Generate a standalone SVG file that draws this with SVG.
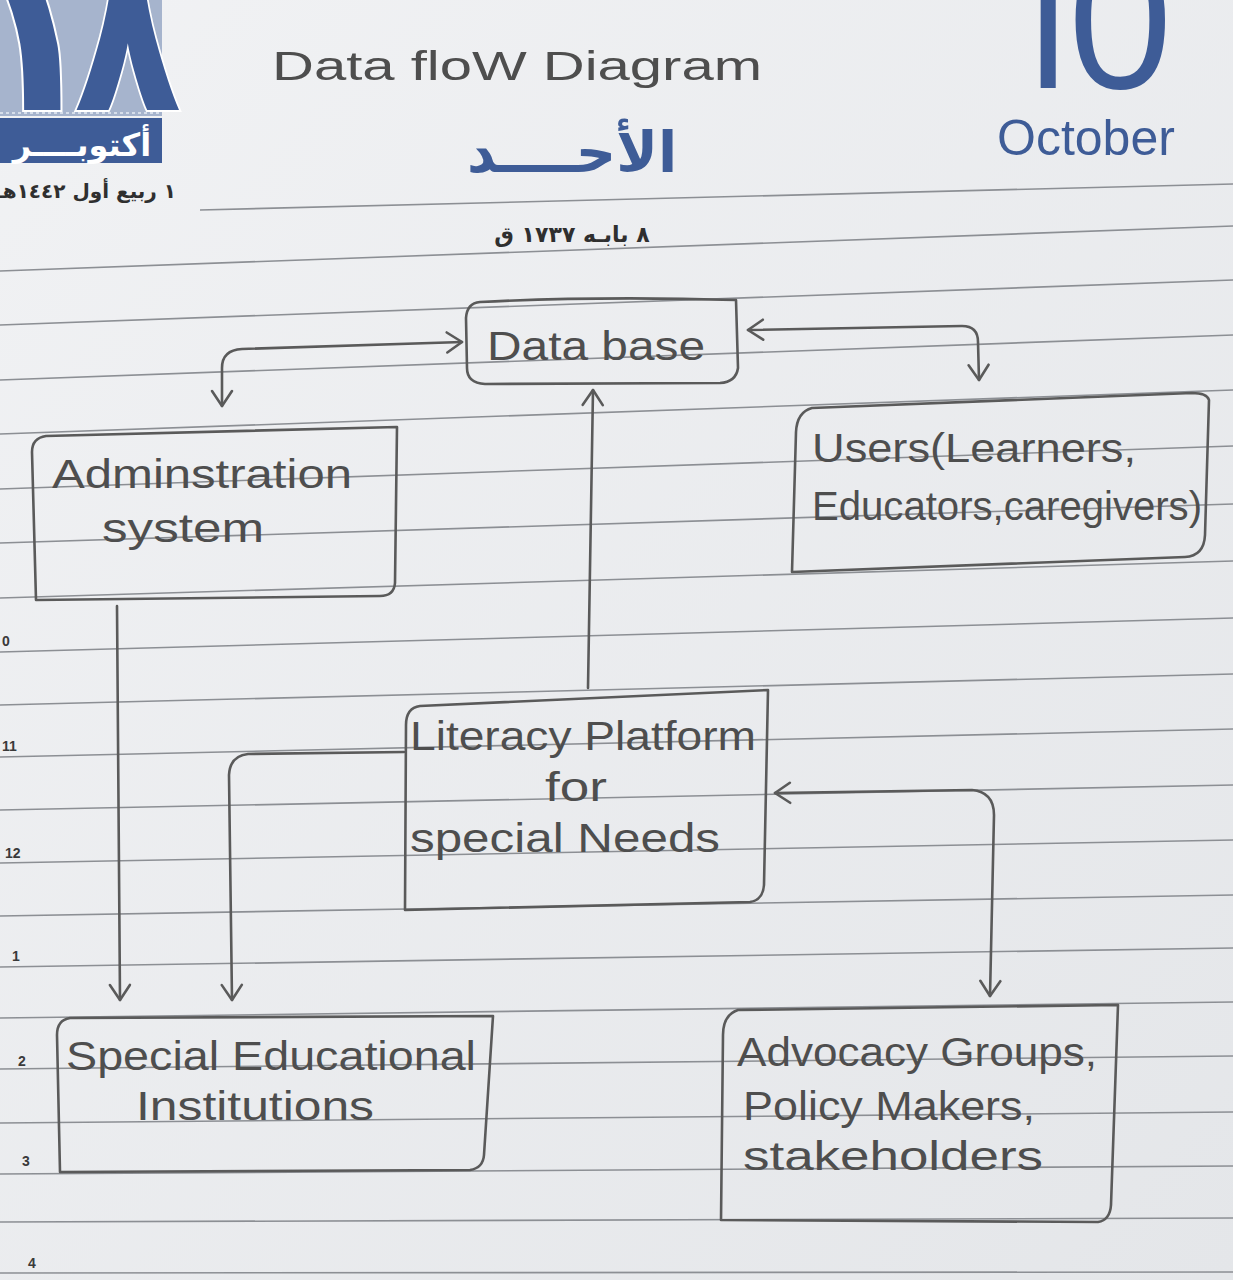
<svg xmlns="http://www.w3.org/2000/svg" width="1233" height="1280" viewBox="0 0 1233 1280">
  <defs>
    <linearGradient id="paper" x1="0" y1="0" x2="1" y2="1">
      <stop offset="0" stop-color="#f1f2f4"/>
      <stop offset="1" stop-color="#e4e6e9"/>
    </linearGradient>
    <marker id="ah" viewBox="0 0 24 24" refX="21" refY="12" markerWidth="24" markerHeight="24" markerUnits="userSpaceOnUse" orient="auto-start-reverse">
      <path d="M6,2 L21,12 L6,22" fill="none" stroke="#5a5a5a" stroke-width="2.6" stroke-linecap="round" stroke-linejoin="round"/>
    </marker>
    <clipPath id="logoClip">
      <rect x="0" y="0" width="200" height="116"/>
    </clipPath>
  </defs>
  <style>
    .rule { stroke: #8c8f94; stroke-width: 1.6; fill: none; }
    .box { fill: none; stroke: #5a5a5a; stroke-width: 2.6; stroke-linejoin: round; stroke-linecap: round; }
    .wire { fill: none; stroke: #5a5a5a; stroke-width: 2.6; stroke-linecap: round; stroke-linejoin: round; }
    .hand { font-family: "Liberation Sans", "DejaVu Sans", sans-serif; fill: #4e4e4e; font-size: 40px; }
    .blue { fill: #3e5c97; }
    .ar { font-family: "DejaVu Sans", "Noto Sans", sans-serif; font-weight: bold; }
    .print { font-family: "Open Sans", "Liberation Sans", sans-serif; }
    .margin { font-family: "Liberation Sans", sans-serif; font-size: 14px; font-weight: bold; fill: #3a3a3a; }
    .numeral { font-size: 210px; stroke: #ffffff; stroke-width: 4px; paint-order: stroke; }
  </style>

  <!-- paper -->
  <rect x="0" y="0" width="1233" height="1280" fill="url(#paper)"/>

  <!-- ruled lines -->
  <g id="rules">
    <line class="rule" x1="200" y1="210" x2="1233" y2="184"/>
    <line class="rule" x1="0" y1="271" x2="1233" y2="226"/>
    <line class="rule" x1="0" y1="325" x2="1233" y2="280"/>
    <line class="rule" x1="0" y1="380" x2="1233" y2="335"/>
    <line class="rule" x1="0" y1="434" x2="1233" y2="390"/>
    <line class="rule" x1="0" y1="489" x2="1233" y2="446"/>
    <line class="rule" x1="0" y1="543" x2="1233" y2="504"/>
    <line class="rule" x1="0" y1="598" x2="1233" y2="561"/>
    <line class="rule" x1="0" y1="652" x2="1233" y2="618"/>
    <line class="rule" x1="0" y1="705" x2="1233" y2="674"/>
    <line class="rule" x1="0" y1="757" x2="1233" y2="729"/>
    <line class="rule" x1="0" y1="810" x2="1233" y2="785"/>
    <line class="rule" x1="0" y1="863" x2="1233" y2="840"/>
    <line class="rule" x1="0" y1="916" x2="1233" y2="895"/>
    <line class="rule" x1="0" y1="967" x2="1233" y2="948"/>
    <line class="rule" x1="0" y1="1018" x2="1233" y2="1002"/>
    <line class="rule" x1="0" y1="1069" x2="1233" y2="1056"/>
    <line class="rule" x1="0" y1="1123" x2="1233" y2="1112"/>
    <line class="rule" x1="0" y1="1174" x2="1233" y2="1166"/>
    <line class="rule" x1="0" y1="1222" x2="1233" y2="1218"/>
    <line class="rule" x1="0" y1="1273" x2="1233" y2="1272"/>
  </g>

  <!-- margin hour marks -->
  <g id="margin">
    <text class="margin" x="2" y="646">0</text>
    <text class="margin" x="2" y="751">11</text>
    <text class="margin" x="5" y="858">12</text>
    <text class="margin" x="12" y="961">1</text>
    <text class="margin" x="18" y="1066">2</text>
    <text class="margin" x="22" y="1166">3</text>
    <text class="margin" x="28" y="1268">4</text>
  </g>

  <!-- printed date header, left -->
  <g id="logo">
    <rect x="0" y="0" width="162" height="116" fill="#a6b4cd"/>
    <line x1="0" y1="113" x2="162" y2="113" stroke="#e6ebf3" stroke-width="1.5" stroke-dasharray="3 3"/>
    <g clip-path="url(#logoClip)">
      <text class="ar blue numeral" x="34" y="110" text-anchor="middle">١</text>
      <text class="ar blue numeral" x="0" y="110" transform="translate(74,0) scale(0.84,1)">٨</text>
    </g>
    <rect x="0" y="118" width="162" height="45" fill="#3e5c97"/>
    <text class="ar" x="82" y="156" font-size="32" fill="#ffffff" text-anchor="middle">أكتوبــــر</text>
    <text class="ar" x="86" y="198" font-size="20" fill="#2f2f2f" text-anchor="middle">١ ربيع أول ١٤٤٢هـ</text>
  </g>

  <!-- printed date header, centre -->
  <g id="weekday">
    <text class="ar blue" x="572" y="172" font-size="56" text-anchor="middle">الأحــــد</text>
    <text class="ar" x="572" y="242" font-size="22" fill="#2f2f2f" text-anchor="middle">٨ بابـه ١٧٣٧ ق</text>
  </g>

  <!-- printed date header, right -->
  <g id="daynum">
    <text class="print blue" font-size="190" y="88"><tspan x="989">1</tspan><tspan x="1066">0</tspan></text>
    <text class="blue" font-family="Liberation Sans, sans-serif" font-size="50" x="997" y="155">October</text>
  </g>

  <!-- title -->
  <text id="title" class="hand" x="272" y="80" font-size="50" textLength="490" lengthAdjust="spacingAndGlyphs" fill="#5c5c5c">Data floW Diagram</text>

  <!-- connectors -->
  <g id="connectors">
    <path class="wire" d="M222,406 L222,368 Q222,350 242,349 L462,342" marker-start="url(#ah)" marker-end="url(#ah)"/>
    <path class="wire" d="M748,330 L962,326 Q978,326 978,342 L979,380" marker-start="url(#ah)" marker-end="url(#ah)"/>
    <path class="wire" d="M588,688 L593,390" marker-end="url(#ah)"/>
    <path class="wire" d="M117,606 L120,1000" marker-end="url(#ah)"/>
    <path class="wire" d="M404,752 L248,754 Q230,756 229,775 L232,1000" marker-end="url(#ah)"/>
    <path class="wire" d="M775,793 L972,790 Q994,792 994,815 L990,996" marker-start="url(#ah)" marker-end="url(#ah)"/>
  </g>

  <!-- nodes -->
  <g id="database">
    <path class="box" d="M480,302 Q600,296 736,300 L738,368 Q736,382 720,383 L485,384 Q467,383 467,368 L466,318 Q467,303 480,302 Z"/>
    <text class="hand" x="487" y="360" font-size="44" textLength="218" lengthAdjust="spacingAndGlyphs">Data base</text>
  </g>

  <g id="admin">
    <path class="box" d="M46,436 L397,427 L395,583 Q394,596 380,596 L36,600 L32,452 Q32,438 46,436 Z"/>
    <text class="hand" x="52" y="488" font-size="42" textLength="300" lengthAdjust="spacingAndGlyphs">Adminstration</text>
    <text class="hand" x="102" y="542" font-size="42" textLength="162" lengthAdjust="spacingAndGlyphs">system</text>
  </g>

  <g id="users">
    <path class="box" d="M812,408 Q797,412 796,432 L792,572 L1185,557 Q1204,556 1205,535 L1209,400 Q1207,393 1192,393 Z"/>
    <text class="hand" x="812" y="462" font-size="38" textLength="324" lengthAdjust="spacingAndGlyphs">Users(Learners,</text>
    <text class="hand" x="812" y="520" font-size="38" textLength="390" lengthAdjust="spacingAndGlyphs">Educators,caregivers)</text>
  </g>

  <g id="platform">
    <path class="box" d="M420,706 Q406,708 406,725 L405,910 L750,902 Q763,900 764,885 L768,690 Z"/>
    <text class="hand" x="410" y="750" font-size="38" textLength="346" lengthAdjust="spacingAndGlyphs">Literacy Platform</text>
    <text class="hand" x="545" y="801" font-size="38" textLength="62" lengthAdjust="spacingAndGlyphs">for</text>
    <text class="hand" x="410" y="852" font-size="38" textLength="310" lengthAdjust="spacingAndGlyphs">special Needs</text>
  </g>

  <g id="institutions">
    <path class="box" d="M70,1018 Q57,1020 57,1035 L60,1172 L470,1170 Q483,1168 484,1155 L493,1016 Z"/>
    <text class="hand" x="66" y="1070" font-size="40" textLength="410" lengthAdjust="spacingAndGlyphs">Special Educational</text>
    <text class="hand" x="136" y="1120" font-size="40" textLength="238" lengthAdjust="spacingAndGlyphs">Institutions</text>
  </g>

  <g id="advocacy">
    <path class="box" d="M738,1010 Q723,1015 723,1035 L721,1220 L1098,1222 Q1110,1220 1111,1205 L1118,1005 Z"/>
    <text class="hand" x="737" y="1066" font-size="40" textLength="360" lengthAdjust="spacingAndGlyphs">Advocacy Groups,</text>
    <text class="hand" x="743" y="1120" font-size="40" textLength="292" lengthAdjust="spacingAndGlyphs">Policy Makers,</text>
    <text class="hand" x="743" y="1170" font-size="40" textLength="300" lengthAdjust="spacingAndGlyphs">stakeholders</text>
  </g>
</svg>
